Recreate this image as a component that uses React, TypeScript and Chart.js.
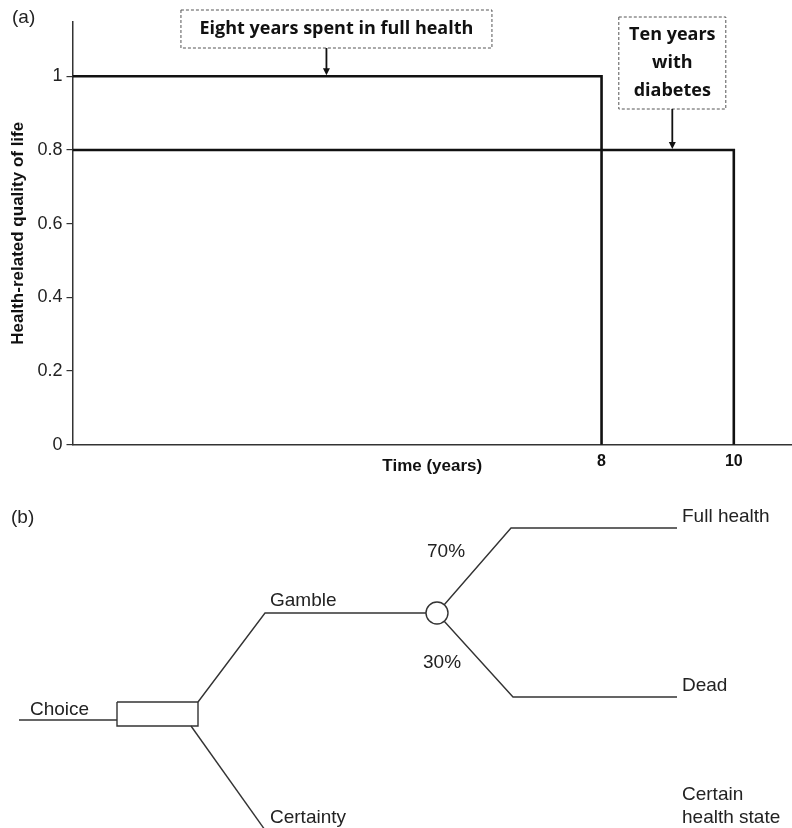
import React, { useEffect, useRef } from "react";
import { Chart, registerables } from "chart.js";

Chart.register(...registerables);

// ---------------- Panel (a): health-related quality of life over time ----------------
const fullHealthTime = [0, 8, 8];
const fullHealthQoL = [1, 1, 0];
const diabetesTime = [0, 10, 10];
const diabetesQoL = [0.8, 0.8, 0];
const xTickValues = [8, 10];
const yTickValues = [0, 0.2, 0.4, 0.6, 0.8, 1];
const xAxisMax = 10.88;
const yAxisMax = 1.148;
const annotationTexts = [["Eight years spent in full health"], ["Ten years", "with", "diabetes"]];
const annotationTargetX = [3.84, 9.07];
const annotationTargetY = [1, 0.8];

// ---------------- Panel (b): standard gamble decision tree ----------------
const choiceStemX = [19, 117];
const choiceStemY = [720, 720];
const decisionBoxX = [117, 198, 198, 117, 117];
const decisionBoxY = [702, 702, 726, 726, 702];
const gambleBranchX = [198, 265, 426];
const gambleBranchY = [702, 613, 613];
const certaintyBranchX = [191, 265];
const certaintyBranchY = [726, 830];
const fullHealthBranchX = [444, 511, 677];
const fullHealthBranchY = [605, 528, 528];
const deadBranchX = [444, 513, 677];
const deadBranchY = [621, 697, 697];
const chanceNodeX = [437];
const chanceNodeY = [613];
const treeLabels = ["(b)", "Full health", "70%", "30%", "Dead", "Gamble", "Choice", "Certainty", "Certain", "health state"];
const treeLabelX = [11, 682, 427, 423, 682, 270, 30, 270, 682, 682];
const treeLabelY = [518, 517, 552, 663, 686, 601, 710, 818, 795, 818];

// ---------------- styling ----------------
const SANS = '"Liberation Sans", Arial, Helvetica, sans-serif';
const BOXFONT = '"Open Sans", "Liberation Sans", sans-serif';
const annotationBoxes = [
  { dx: 10, top: 10, w: 311, h: 38, lineHeight: 28 },
  { dx: 0, top: 17, w: 107, h: 92, lineHeight: 28 },
];

const panelAPlugin = {
  id: "panelAAnnotations",
  afterDraw(chart: any) {
    const ctx = chart.ctx as CanvasRenderingContext2D;
    const xs = chart.scales.x;
    const ys = chart.scales.y;
    ctx.save();
    ctx.font = `19px ${SANS}`;
    ctx.fillStyle = "#222";
    ctx.textBaseline = "middle";
    ctx.textAlign = "left";
    ctx.fillText("(a)", 12, 18);

    annotationTexts.forEach((lines, i) => {
      const tx = xs.getPixelForValue(annotationTargetX[i]);
      const ty = ys.getPixelForValue(annotationTargetY[i]);
      const b = annotationBoxes[i];
      const cx = tx + b.dx;
      const left = cx - b.w / 2;
      ctx.setLineDash([3, 2]);
      ctx.strokeStyle = "#555";
      ctx.lineWidth = 1;
      ctx.strokeRect(left, b.top, b.w, b.h);
      ctx.setLineDash([]);
      ctx.font = `bold 18px ${BOXFONT}`;
      ctx.fillStyle = "#111";
      ctx.textAlign = "center";
      ctx.textBaseline = "middle";
      const startY = b.top + b.h / 2 - ((lines.length - 1) * b.lineHeight) / 2;
      lines.forEach((t, j) => ctx.fillText(t, cx, startY + j * b.lineHeight));
      // arrow
      ctx.strokeStyle = "#111";
      ctx.lineWidth = 1.8;
      ctx.beginPath();
      ctx.moveTo(tx, b.top + b.h);
      ctx.lineTo(tx, ty - 5);
      ctx.stroke();
      ctx.beginPath();
      ctx.moveTo(tx - 3.5, ty - 8);
      ctx.lineTo(tx + 3.5, ty - 8);
      ctx.lineTo(tx, ty - 1);
      ctx.closePath();
      ctx.fill();
    });
    ctx.restore();
  },
};

const panelBPlugin = {
  id: "panelBLabels",
  afterDraw(chart: any) {
    const ctx = chart.ctx as CanvasRenderingContext2D;
    const xs = chart.scales.x;
    const ys = chart.scales.y;
    ctx.save();
    ctx.font = `19px ${SANS}`;
    ctx.fillStyle = "#222";
    ctx.textAlign = "left";
    ctx.textBaseline = "middle";
    treeLabels.forEach((t, i) => {
      ctx.fillText(t, xs.getPixelForValue(treeLabelX[i]), ys.getPixelForValue(treeLabelY[i]));
    });
    ctx.restore();
  },
};

const toPoints = (xs: number[], ys: number[]) => xs.map((x, i) => ({ x, y: ys[i] }));

const treeLine = (xs: number[], ys: number[]) => ({
  data: toPoints(xs, ys),
  borderColor: "#333",
  borderWidth: 1.4,
  pointRadius: 0,
  fill: false,
  tension: 0,
  showLine: true,
});

export default function App() {
  const refA = useRef<HTMLCanvasElement>(null);
  const refB = useRef<HTMLCanvasElement>(null);

  useEffect(() => {
    document.body.style.margin = "0";
    const chartA = new Chart(refA.current as HTMLCanvasElement, {
      type: "line",
      data: {
        datasets: [
          {
            label: "Full health",
            data: toPoints(fullHealthTime, fullHealthQoL),
            borderColor: "#111",
            borderWidth: 2.6,
            pointRadius: 0,
            fill: false,
            tension: 0,
          },
          {
            label: "Diabetes",
            data: toPoints(diabetesTime, diabetesQoL),
            borderColor: "#111",
            borderWidth: 2.6,
            pointRadius: 0,
            fill: false,
            tension: 0,
          },
        ],
      },
      options: {
        animation: false,
        responsive: false,
        events: [],
        layout: { autoPadding: false, padding: { top: 21.7, right: 0, bottom: 3.2, left: 0 } },
        plugins: { legend: { display: false }, tooltip: { enabled: false } },
        scales: {
          x: {
            type: "linear",
            min: 0,
            max: xAxisMax,
            afterBuildTicks: (s: any) => {
              s.ticks = xTickValues.map((v) => ({ value: v }));
            },
            afterFit: (s: any) => {
              s.height = 32;
            },
            grid: { display: false, drawTicks: false },
            border: { display: true, color: "#333", width: 1.5 },
            ticks: {
              font: { family: SANS, size: 16, weight: "bold" },
              color: "#111",
              padding: 7,
              maxRotation: 0,
              autoSkip: false,
              callback: (v: any) => String(v),
            },
            title: {
              display: true,
              text: "Time (years)",
              font: { family: SANS, size: 17, weight: "bold" },
              color: "#111",
              padding: { top: 0, bottom: 0 },
            },
          },
          y: {
            type: "linear",
            min: 0,
            max: yAxisMax,
            afterBuildTicks: (s: any) => {
              s.ticks = yTickValues.map((v) => ({ value: v }));
            },
            afterFit: (s: any) => {
              s.width = 72.5;
            },
            grid: { display: true, drawOnChartArea: false, drawTicks: true, tickLength: 6, color: "#333", lineWidth: 1.2 },
            border: { display: true, color: "#333", width: 1.5 },
            ticks: {
              font: { family: SANS, size: 18 },
              color: "#222",
              padding: 4,
              callback: (v: any) => String(v),
            },
            title: {
              display: true,
              text: "Health-related quality of life",
              font: { family: SANS, size: 17, weight: "bold" },
              color: "#111",
              padding: { top: 8, bottom: 0 },
            },
          },
        },
      },
      plugins: [panelAPlugin],
    } as any);

    const chartB = new Chart(refB.current as HTMLCanvasElement, {
      type: "line",
      data: {
        datasets: [
          {
            label: "Chance node",
            data: toPoints(chanceNodeX, chanceNodeY),
            showLine: false,
            pointRadius: 11,
            pointBackgroundColor: "#fff",
            pointBorderColor: "#333",
            pointBorderWidth: 1.4,
          },
          treeLine(choiceStemX, choiceStemY),
          treeLine(decisionBoxX, decisionBoxY),
          treeLine(gambleBranchX, gambleBranchY),
          treeLine(certaintyBranchX, certaintyBranchY),
          treeLine(fullHealthBranchX, fullHealthBranchY),
          treeLine(deadBranchX, deadBranchY),
        ],
      },
      options: {
        animation: false,
        responsive: false,
        events: [],
        layout: { autoPadding: false, padding: 0 },
        plugins: { legend: { display: false }, tooltip: { enabled: false } },
        scales: {
          x: { type: "linear", display: false, min: 0, max: 792 },
          y: { type: "linear", display: false, min: 480, max: 828, reverse: true },
        },
      },
      plugins: [panelBPlugin],
    } as any);

    return () => {
      chartA.destroy();
      chartB.destroy();
    };
  }, []);

  return (
    <div style={{ position: "relative", width: 792, height: 828, background: "#fff" }}>
      <canvas ref={refA} width={792} height={480} style={{ display: "block", width: 792, height: 480 }} />
      <canvas ref={refB} width={792} height={348} style={{ display: "block", width: 792, height: 348 }} />
    </div>
  );
}
